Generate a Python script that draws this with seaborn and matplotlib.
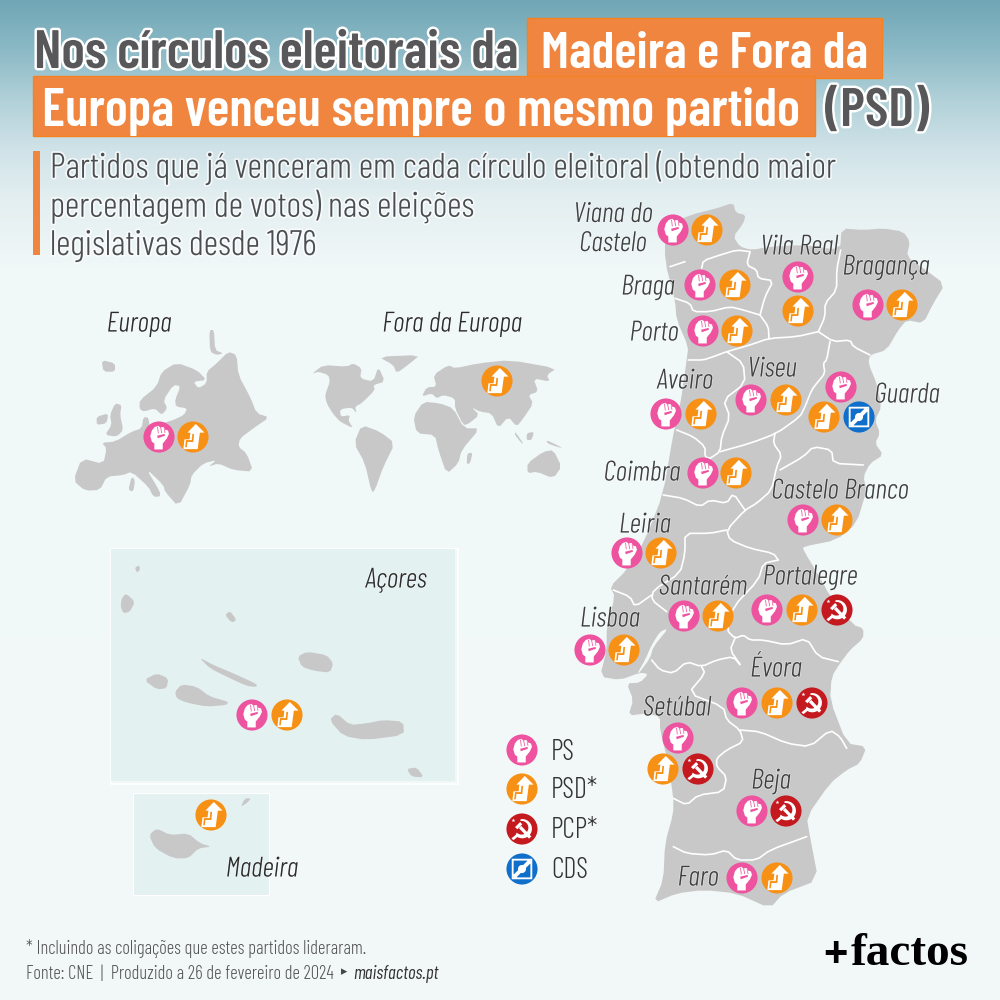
import numpy as np
import pandas as pd
import matplotlib
matplotlib.use("Agg")
import matplotlib.pyplot as plt
import matplotlib.patheffects as pe
from matplotlib.path import Path
from matplotlib.patches import Rectangle
from matplotlib.transforms import Affine2D
import seaborn as sns

sns.set_theme(style="white")
# Barlow Condensed is not in the documented font list, it was found in the sandbox.
# Liberation Sans takes over if it is missing; long lines are shrunk to fit in that case.
plt.rcParams["font.family"] = ["Barlow Condensed", "Liberation Sans", "DejaVu Sans"]

# Quem ja venceu em cada circulo
circulos = ["Viana do Castelo", "Braga", "Porto", "Aveiro", "Viseu", "Guarda", "Vila Real",
            "Bragança", "Coimbra", "Castelo Branco", "Leiria", "Santarém", "Portalegre",
            "Lisboa", "Évora", "Setúbal", "Beja", "Faro", "Europa", "Fora da Europa",
            "Açores", "Madeira"]
vencedores = [["PS", "PSD"], ["PS", "PSD"], ["PS", "PSD"], ["PS", "PSD"], ["PS", "PSD"],
              ["PS", "PSD", "CDS"], ["PS", "PSD"], ["PS", "PSD"], ["PS", "PSD"], ["PS", "PSD"],
              ["PS", "PSD"], ["PS", "PSD"], ["PS", "PSD", "PCP"], ["PS", "PSD"],
              ["PS", "PSD", "PCP"], ["PS", "PSD", "PCP"], ["PS", "PCP"], ["PS", "PSD"],
              ["PS", "PSD"], ["PSD"], ["PS", "PSD"], ["PSD"]]
partidos = ["PS", "PSD", "PCP", "CDS"]
legenda_txt = ["PS", "PSD*", "PCP*", "CDS"]

# Onde fica cada emblema na pagina
emblemas_pos = [[(673, 230), (707, 230)], [(700, 285), (735, 285)], [(703, 331), (737, 331)],
                [(666, 414), (701, 414)], [(751, 400), (786, 400)],
                [(841, 387), (824, 417), (859, 417)], [(798, 277), (798, 311)],
                [(868, 305), (902, 305)], [(703, 473), (736, 473)], [(803, 520), (837, 520)],
                [(627, 553), (661, 553)], [(684, 616), (718, 616)],
                [(767, 610), (802, 610), (837, 610)], [(590, 650), (624, 650)],
                [(742, 703), (777, 703), (812, 703)], [(678, 738), (663, 769), (698, 769)],
                [(752, 811), (786, 811)], [(742, 878), (777, 878)], [(159, 437), (193, 437)],
                [(497, 381)], [(252, 715), (287, 715)], [(211, 815)]]
legenda_pos = [(522, 750), (522, 789), (522, 829), (522, 869)]

cores = {"PS": "#ee539f", "PSD": "#f79115", "PCP": "#c41a1f", "CDS": "#0f6fca"}
cinza = "#c9c8c8"
fundo = "#f3f9f9"


def norte(pts):
    return [(570 + x / 3, 190 + y / 3) for x, y in pts]


def sul(pts):
    return [(570 + x / 3, 550 + y / 3) for x, y in pts]


def mundo(pts):
    return [(60 + x / 3, 300 + y / 3) for x, y in pts]


def ilhas(pts):
    return [(100 + x / 3, 540 + y / 3) for x, y in pts]


def suave(pts, fechado=True, vezes=1):
    # arredonda os cantos dos contornos
    pts = np.array(pts, dtype=float)
    for _ in range(vezes):
        if fechado:
            a, b = pts, np.roll(pts, -1, axis=0)
        else:
            a, b = pts[:-1], pts[1:]
        q = 0.8 * a + 0.2 * b
        r = 0.2 * a + 0.8 * b
        novo = np.empty((2 * len(a), 2))
        novo[0::2] = q
        novo[1::2] = r
        if not fechado:
            novo = np.vstack([pts[0], novo, pts[-1]])
        pts = novo
    return pts


# Contorno de Portugal
portugal = norte([(285, 110), (360, 75), (440, 55), (490, 38), (497, 68), (527, 75), (520, 100),
                  (490, 140), (510, 170), (545, 180), (600, 170), (700, 165), (810, 180),
                  (815, 115), (880, 120), (940, 115), (1000, 125), (1020, 155), (1010, 200),
                  (1060, 235), (1125, 283), (1090, 340), (1060, 400), (1010, 390), (985, 420),
                  (950, 480), (900, 495), (895, 520), (920, 580), (935, 650), (915, 690),
                  (930, 730), (915, 760), (940, 795), (900, 820), (880, 860), (890, 900),
                  (860, 1000), (800, 1050), (700, 1070)]) + \
    sul([(700, 0), (760, 100), (775, 130), (850, 225), (880, 235), (880, 265), (840, 300),
         (810, 340), (785, 380), (780, 450), (830, 580), (890, 590), (870, 640), (830, 660),
         (780, 700), (710, 800), (720, 860), (745, 990), (640, 1030), (600, 1075), (500, 1030),
         (400, 1020), (320, 1030), (250, 1060), (280, 990), (285, 880), (310, 790), (310, 740),
         (290, 620), (270, 540), (270, 500), (230, 490), (175, 497), (190, 450), (170, 400),
         (210, 398), (235, 372), (210, 368), (150, 390), (90, 380), (110, 300), (110, 230),
         (135, 140), (120, 110), (170, 60)]) + \
    norte([(225, 1050), (280, 910), (310, 730), (330, 650), (350, 510), (355, 470), (320, 390),
           (315, 330), (285, 215)])
estuario = sul([(205, 372), (240, 325), (250, 290), (295, 235), (270, 245), (245, 285), (225, 330),
                (205, 365)])

# Fronteiras entre distritos
fronteiras = [
    norte([(300, 230), (345, 215)]),
    norte([(395, 235), (400, 212), (450, 195), (500, 180), (540, 185)]),
    norte([(540, 185), (530, 225), (560, 240), (565, 265), (610, 272), (585, 320), (570, 375)]),
    norte([(315, 325), (360, 340), (370, 365), (420, 365), (480, 350), (520, 360), (570, 375)]),
    norte([(570, 375), (595, 410), (597, 445)]),
    norte([(355, 510), (400, 510), (430, 500), (470, 485), (540, 465), (597, 445), (680, 440), (745, 425)]),
    norte([(812, 180), (800, 240), (800, 300), (765, 340), (765, 380), (745, 425)]),
    norte([(745, 425), (790, 455), (840, 450), (850, 470), (900, 495)]),
    norte([(780, 455), (770, 510), (760, 520), (765, 550), (740, 580), (725, 600), (705, 650), (690, 680), (620, 730), (540, 760), (450, 785)]),
    norte([(470, 485), (520, 520), (525, 580), (460, 630), (480, 680), (455, 740), (450, 785), (420, 805)]),
    norte([(320, 720), (370, 740), (405, 770), (405, 800), (420, 805)]),
    norte([(280, 915), (340, 925), (390, 950), (420, 930), (470, 940), (490, 910), (525, 960)]),
    norte([(615, 730), (610, 760), (635, 795), (620, 830), (605, 900), (560, 940), (525, 960), (470, 1020), (480, 1050), (540, 1075), (610, 1090), (625, 1110)]),
    norte([(630, 840), (700, 800), (730, 770), (785, 780), (790, 820), (880, 825)]),
    norte([(470, 1020), (420, 1030), (345, 1030), (345, 1090)]) + sul([(330, 70), (250, 120), (245, 150), (290, 185)]),
    sul([(130, 120), (180, 140), (195, 170), (245, 135)]),
    sul([(625, 30), (580, 40), (565, 90), (490, 170), (470, 240), (495, 265), (520, 255), (540, 270), (580, 270), (650, 285), (710, 265), (745, 320), (805, 335)]),
    sul([(495, 265), (480, 300), (515, 350), (490, 320), (440, 330), (395, 350), (350, 335), (310, 370), (270, 360), (245, 330)]),
    sul([(395, 350), (405, 370), (355, 430), (460, 470), (470, 510), (510, 540), (520, 575), (470, 600), (440, 625), (440, 650), (470, 680), (460, 725), (385, 735), (350, 765), (310, 745)]),
    sul([(510, 540), (570, 545), (650, 580), (720, 590), (780, 540), (810, 560), (830, 595)]),
    sul([(310, 890), (350, 910), (420, 915), (470, 900), (500, 930), (560, 930), (600, 900), (710, 860)]),
]

# Europa e mundo
europa = mundo([(40, 542), (65, 475), (130, 492), (140, 445), (125, 428), (165, 425), (215, 395),
                (245, 385), (250, 352), (265, 352), (270, 385), (300, 372), (340, 360), (372, 345),
                (382, 325), (348, 320), (345, 300), (362, 258), (340, 255), (310, 300), (322, 325),
                (305, 345), (285, 325), (250, 335), (238, 325), (240, 300), (290, 260), (305, 215),
                (350, 188), (410, 210), (440, 240), (400, 245), (415, 265), (440, 250), (440, 215),
                (470, 190), (505, 155), (530, 165), (535, 225), (570, 290), (590, 340), (628, 352),
                (580, 385), (540, 415), (535, 440), (560, 460), (580, 515), (520, 510), (475, 490),
                (445, 500), (470, 480), (430, 490), (395, 525), (390, 555), (355, 620), (315, 575),
                (310, 555), (258, 505), (300, 575), (300, 590), (280, 590), (265, 560), (215, 515),
                (190, 525), (140, 530), (120, 570), (75, 572)])
ilhas_europa = [mundo(p) for p in [
    [(165, 310), (185, 315), (180, 345), (190, 390), (170, 410), (135, 405), (155, 375), (150, 345)],
    [(110, 350), (145, 340), (140, 370), (110, 375)],
    [(125, 180), (165, 190), (165, 215), (130, 215)],
    [(215, 530), (225, 540), (220, 575), (205, 570)],
    [(448, 90), (462, 90), (465, 150), (490, 160), (470, 165), (450, 155)],
]]
continentes = [mundo(p) for p in [
    [(755, 222), (790, 195), (860, 200), (880, 190), (905, 205), (900, 235), (940, 245), (955, 200),
     (975, 245), (940, 255), (945, 270), (905, 310), (885, 320), (890, 340), (875, 322), (840, 328),
     (842, 350), (870, 345), (865, 362), (880, 385), (840, 365), (818, 340), (800, 310), (795, 285),
     (810, 245), (805, 225), (775, 215)],
    [(955, 170), (1080, 165), (1050, 190), (1010, 220), (1000, 195)],
    [(905, 375), (960, 395), (1005, 430), (970, 500), (945, 570), (935, 578), (915, 490), (882, 430)],
    [(1085, 290), (1100, 262), (1130, 260), (1120, 225), (1165, 195), (1185, 205), (1255, 190),
     (1350, 180), (1490, 205), (1460, 225), (1470, 245), (1420, 235), (1435, 275), (1405, 285),
     (1420, 310), (1390, 355), (1370, 380), (1345, 350), (1315, 385), (1295, 340), (1260, 335),
     (1235, 322), (1258, 345), (1225, 372), (1210, 375), (1185, 325), (1185, 295), (1150, 285),
     (1130, 295), (1115, 280)],
    [(1060, 350), (1090, 305), (1140, 310), (1180, 325), (1212, 385), (1260, 385), (1205, 450),
     (1195, 490), (1160, 522), (1135, 450), (1125, 405), (1070, 400)],
    [(1402, 490), (1450, 455), (1480, 450), (1505, 500), (1480, 535), (1430, 515), (1403, 520)],
    [(1222, 460), (1238, 458), (1230, 490), (1220, 492)],
    [(1365, 395), (1390, 430), (1385, 430), (1365, 405)],
    [(1400, 400), (1422, 395), (1415, 420), (1400, 420)],
    [(1460, 420), (1510, 445), (1490, 440), (1462, 430)],
]]
acores = [ilhas(p) for p in [
    [(105, 82), (118, 76), (120, 90), (110, 98)],
    [(65, 175), (78, 160), (105, 185), (90, 215), (70, 220), (62, 200)],
    [(375, 225), (390, 213), (410, 240), (395, 248)],
    [(593, 350), (620, 335), (680, 345), (700, 370), (690, 398), (640, 392), (605, 380)],
    [(297, 352), (340, 375), (400, 400), (470, 432), (470, 441), (440, 438), (380, 410), (330, 385)],
    [(132, 420), (170, 400), (205, 415), (200, 445), (170, 448)],
    [(225, 455), (245, 433), (290, 440), (330, 470), (385, 485), (380, 495), (320, 500), (260, 488), (230, 475)],
    [(688, 540), (710, 520), (750, 555), (800, 550), (850, 540), (910, 545), (912, 585), (800, 600), (730, 588)],
    [(920, 687), (950, 682), (972, 712), (935, 710)],
]]
madeira = [ilhas(p) for p in [
    [(147, 885), (170, 865), (210, 885), (265, 880), (300, 910), (335, 920), (295, 925), (265, 955), (220, 955), (165, 925)],
    [(422, 800), (435, 775), (453, 775), (440, 790)],
]]


def poly(pts, buraco=False):
    # sentido fixo: os buracos ficam ao contrario do resto
    pts = np.array(pts, dtype=float)
    x, y = pts[:, 0], pts[:, 1]
    area = np.sum(x * np.roll(y, -1) - np.roll(x, -1) * y)
    if (area < 0) != buraco:
        pts = pts[::-1]
    verts = np.vstack([pts, pts[0]])
    codes = [Path.MOVETO] + [Path.LINETO] * (len(pts) - 1) + [Path.CLOSEPOLY]
    return Path(verts, codes)


def icone_ps():
    punho = [(-0.3, -0.8), (0.24, -0.8), (0.24, -0.42), (0.5, -0.1), (0.64, 0.2), (0.58, 0.42),
             (0.38, 0.48), (0.3, 0.64), (0.08, 0.62), (-0.05, 0.72), (-0.28, 0.64), (-0.46, 0.42),
             (-0.56, 0.05), (-0.46, -0.3), (-0.3, -0.42)]
    dobra = [(-0.12, 0.08), (0.36, 0.2), (0.38, 0.08), (-0.08, -0.08)]
    dedos = [[(0.08, 0.62), (0.13, 0.62), (0.2, 0.26), (0.15, 0.25)],
             [(0.3, 0.6), (0.35, 0.5), (0.42, 0.28), (0.36, 0.27)],
             [(-0.12, 0.66), (-0.07, 0.66), (-0.02, 0.24), (-0.07, 0.23)]]
    return Path.make_compound_path(poly(punho), poly(dobra, True), *[poly(d, True) for d in dedos])


def icone_psd():
    seta = [(0.18, 0.84), (0.74, 0.28), (0.44, 0.28), (0.3, -0.78), (-0.62, -0.78), (-0.55, -0.15),
            (-0.22, -0.15), (-0.17, 0.28), (-0.36, 0.28)]
    degrau = [(-0.5, -0.66), (-0.4, -0.66), (-0.36, -0.32), (0.02, -0.32), (0.07, 0.2), (-0.04, 0.2),
              (-0.08, -0.2), (-0.45, -0.2)]
    return Path.make_compound_path(poly(seta), poly(degrau, True))


def icone_pcp():
    t = np.radians(np.linspace(100, -135, 24))
    fora = [(0.62 * np.cos(a) + 0.02, 0.62 * np.sin(a) + 0.02) for a in t]
    dentro = [(0.44 * np.cos(a) - 0.03, 0.44 * np.sin(a) + 0.08) for a in t[::-1]]
    foice = poly(fora + dentro)
    cabo_foice = [(-0.4, -0.38), (-0.28, -0.5), (-0.55, -0.72), (-0.68, -0.6)]
    cabo = [(-0.2, 0.05), (-0.05, 0.2), (0.6, -0.48), (0.45, -0.62)]
    cabeca = [(-0.45, 0.12), (-0.12, 0.45), (0.02, 0.3), (-0.3, -0.02)]
    estrela = Path.unit_regular_star(5, 0.4).transformed(Affine2D().scale(0.13).translate(-0.55, 0.55))
    return Path.make_compound_path(foice, poly(cabo_foice), poly(cabo), poly(cabeca), estrela)


def icone_cds():
    fora = [(-0.66, -0.66), (0.66, -0.66), (0.66, 0.66), (-0.66, 0.66)]
    dentro = [(-0.54, -0.54), (0.54, -0.54), (0.54, 0.54), (-0.54, 0.54)]
    faixa = [(-0.6, -0.42), (-0.42, -0.6), (0.6, 0.42), (0.42, 0.6)]
    disco = Path.circle((0, 0), 0.26)
    return Path.make_compound_path(poly(fora), poly(dentro, True), poly(faixa), disco)


icones = {"PS": icone_ps(), "PSD": icone_psd(), "PCP": icone_pcp(), "CDS": icone_cds()}

# Tabela dos emblemas
linhas = []
for circulo, nomes, posicoes in zip(circulos, vencedores, emblemas_pos):
    for partido, (x, y) in zip(nomes, posicoes):
        linhas.append({"circulo": circulo, "partido": partido, "x": x, "y": y})
for partido, (x, y) in zip(partidos, legenda_pos):
    linhas.append({"circulo": "legenda", "partido": partido, "x": x, "y": y})
df = pd.DataFrame(linhas)

fig = plt.figure(figsize=(10, 10), dpi=100)
ax = fig.add_axes([0, 0, 1, 1])

# Fundo em degrade
stops_y = [0, 50, 100, 150, 200, 270, 1000]
stops_c = np.array([[112, 166, 182], [140, 186, 198], [178, 209, 217], [208, 227, 232],
                    [228, 239, 241], [241, 248, 248], [243, 249, 249]]) / 255
grad = np.stack([np.interp(np.arange(1000), stops_y, stops_c[:, i]) for i in range(3)], axis=1)[:, None, :]
ax.imshow(grad, extent=(0, 1000, 1000, 0), aspect="auto", zorder=0)

# Caixas das ilhas
ax.add_patch(Rectangle((111, 549), 347, 235, fc="none", ec="white", lw=1.2, zorder=1))
ax.add_patch(Rectangle((111, 549), 344, 232, fc="#e3f1f0", ec="none", zorder=1))
ax.add_patch(Rectangle((133, 793), 136, 102, fc="#e3f1f0", ec="white", lw=0.8, zorder=1))

# Mapas
ax.fill(*suave(portugal).T, color=cinza, lw=0, zorder=2)
ax.fill(*suave(estuario).T, color=fundo, lw=0, zorder=2)
for linha in fronteiras:
    ax.plot(*suave(linha, fechado=False).T, color="white", lw=1.2, zorder=3, solid_joinstyle="round")
ax.fill(*suave(europa).T, color=cinza, lw=0, zorder=2)
for forma in ilhas_europa + continentes + acores + madeira:
    ax.fill(*suave(forma).T, color=cinza, lw=0, zorder=2)

# Emblemas
diam = 22.4
sns.scatterplot(data=df, x="x", y="y", hue="partido", palette=cores, s=diam ** 2,
                linewidth=0, legend=False, ax=ax, zorder=4)
for partido, sub in df.groupby("partido"):
    path = icones[partido]
    tamanho = (diam * np.abs(path.vertices).max()) ** 2
    sns.scatterplot(data=sub, x="x", y="y", color="white", marker=path, s=tamanho,
                    linewidth=0, edgecolor="none", legend=False, ax=ax, zorder=5)
ax.set_xlim(0, 1000)
ax.set_ylim(1000, 0)
ax.axis("off")

halo = [pe.withStroke(linewidth=2.5, foreground="white", alpha=0.75)]
halo_forte = [pe.withStroke(linewidth=3.5, foreground="white")]


def texto(x, y, s, largura=None, **kw):
    # se a fonte vier mais larga, encolhe ate caber
    t = ax.text(x, y, s, **kw)
    if largura:
        w = t.get_window_extent(fig.canvas.get_renderer()).width
        if w > largura:
            t.set_fontsize(t.get_fontsize() * largura / w)
    return t


# Titulo
ax.add_patch(Rectangle((527, 18), 355, 60, fc="#ef853f", ec="#f5821f", lw=1, zorder=6))
ax.add_patch(Rectangle((33, 76), 782, 60, fc="#ef853f", ec="#f5821f", lw=1, zorder=6))
titulo = dict(fontsize=39, fontweight=600, va="center", ha="left", zorder=7)
texto(34, 54, "Nos círculos eleitorais da", 484, color="#58585a", path_effects=halo_forte, **titulo)
texto(541, 54, "Madeira e Fora da", 327, color="white", **titulo)
texto(42, 112, "Europa venceu sempre o mesmo partido", 758, color="white", **titulo)
texto(825, 112, "(PSD)", 108, color="#58585a", path_effects=halo_forte, **titulo)

# Subtitulo
ax.add_patch(Rectangle((33, 151), 7, 104, fc="#ef853f", ec="none", zorder=6))
subt = dict(fontsize=25.5, fontweight=300, color="#4b4e50", va="center", ha="left", zorder=7, path_effects=halo)
texto(50, 168, "Partidos que já venceram em cada círculo eleitoral (obtendo maior", 788, **subt)
texto(50, 207, "percentagem de votos) nas eleições", 429, **subt)
texto(50, 246, "legislativas desde 1976", 279, **subt)

# Nomes dos circulos
nomes_pos = {"Viana do\nCastelo": (613, 229), "Braga": (648, 287), "Porto": (654, 333),
             "Aveiro": (685, 381), "Viseu": (772, 369), "Guarda": (907, 395), "Vila Real": (799, 247),
             "Bragança": (886, 267), "Coimbra": (642, 473), "Castelo Branco": (840, 491),
             "Leiria": (645, 525), "Santarém": (703, 587), "Portalegre": (810, 577),
             "Lisboa": (610, 619), "Évora": (776, 669), "Setúbal": (677, 708), "Beja": (771, 781),
             "Faro": (698, 878), "Europa": (139, 324), "Fora da Europa": (452, 324),
             "Açores": (396, 580), "Madeira": (262, 869)}
for nome, (x, y) in nomes_pos.items():
    cor = "#2c2c2c" if nome in ("Europa", "Fora da Europa", "Açores", "Madeira") else "#3f3f3f"
    ax.text(x, y, nome, fontsize=20.3, fontstyle="italic", fontweight=300, color=cor, ha="center",
            va="center", zorder=7, linespacing=1.1,
            path_effects=[pe.withStroke(linewidth=1.2, foreground="white", alpha=0.4)])

# Legenda
for (x, y), txt in zip(legenda_pos, legenda_txt):
    ax.text(x + 29, y + 2, txt, fontsize=20.3, fontweight=300, color="#333333", ha="left", va="center", zorder=7)

# Rodape
texto(26, 948, "* Incluindo as coligações que estes partidos lideraram.", 341, fontsize=13.4,
      fontweight=300, color="#555555", ha="left", va="center", zorder=7)
texto(26, 974, "Fonte: CNE  |  Produzido a 26 de fevereiro de 2024", 311, fontsize=13.4,
      fontweight=300, color="#555555", ha="left", va="center", zorder=7)
ax.text(341, 972, "▸", fontsize=9, color="#444444", ha="left", va="center", zorder=7,
        family=["DejaVu Sans"])
texto(353, 974, "maisfactos.pt", 86, fontsize=13.5, fontstyle="italic", color="#333333",
      ha="left", va="center", zorder=7)
ax.text(823, 955, "+", fontsize=30, fontweight="bold", color="black", ha="left", va="center",
        family=["Liberation Sans"], zorder=7)
ax.text(851, 954, "factos", fontsize=34, fontweight="bold", color="black", ha="left", va="center",
        family=["Liberation Serif"], zorder=7)

fig.savefig("out.png", dpi=100)
